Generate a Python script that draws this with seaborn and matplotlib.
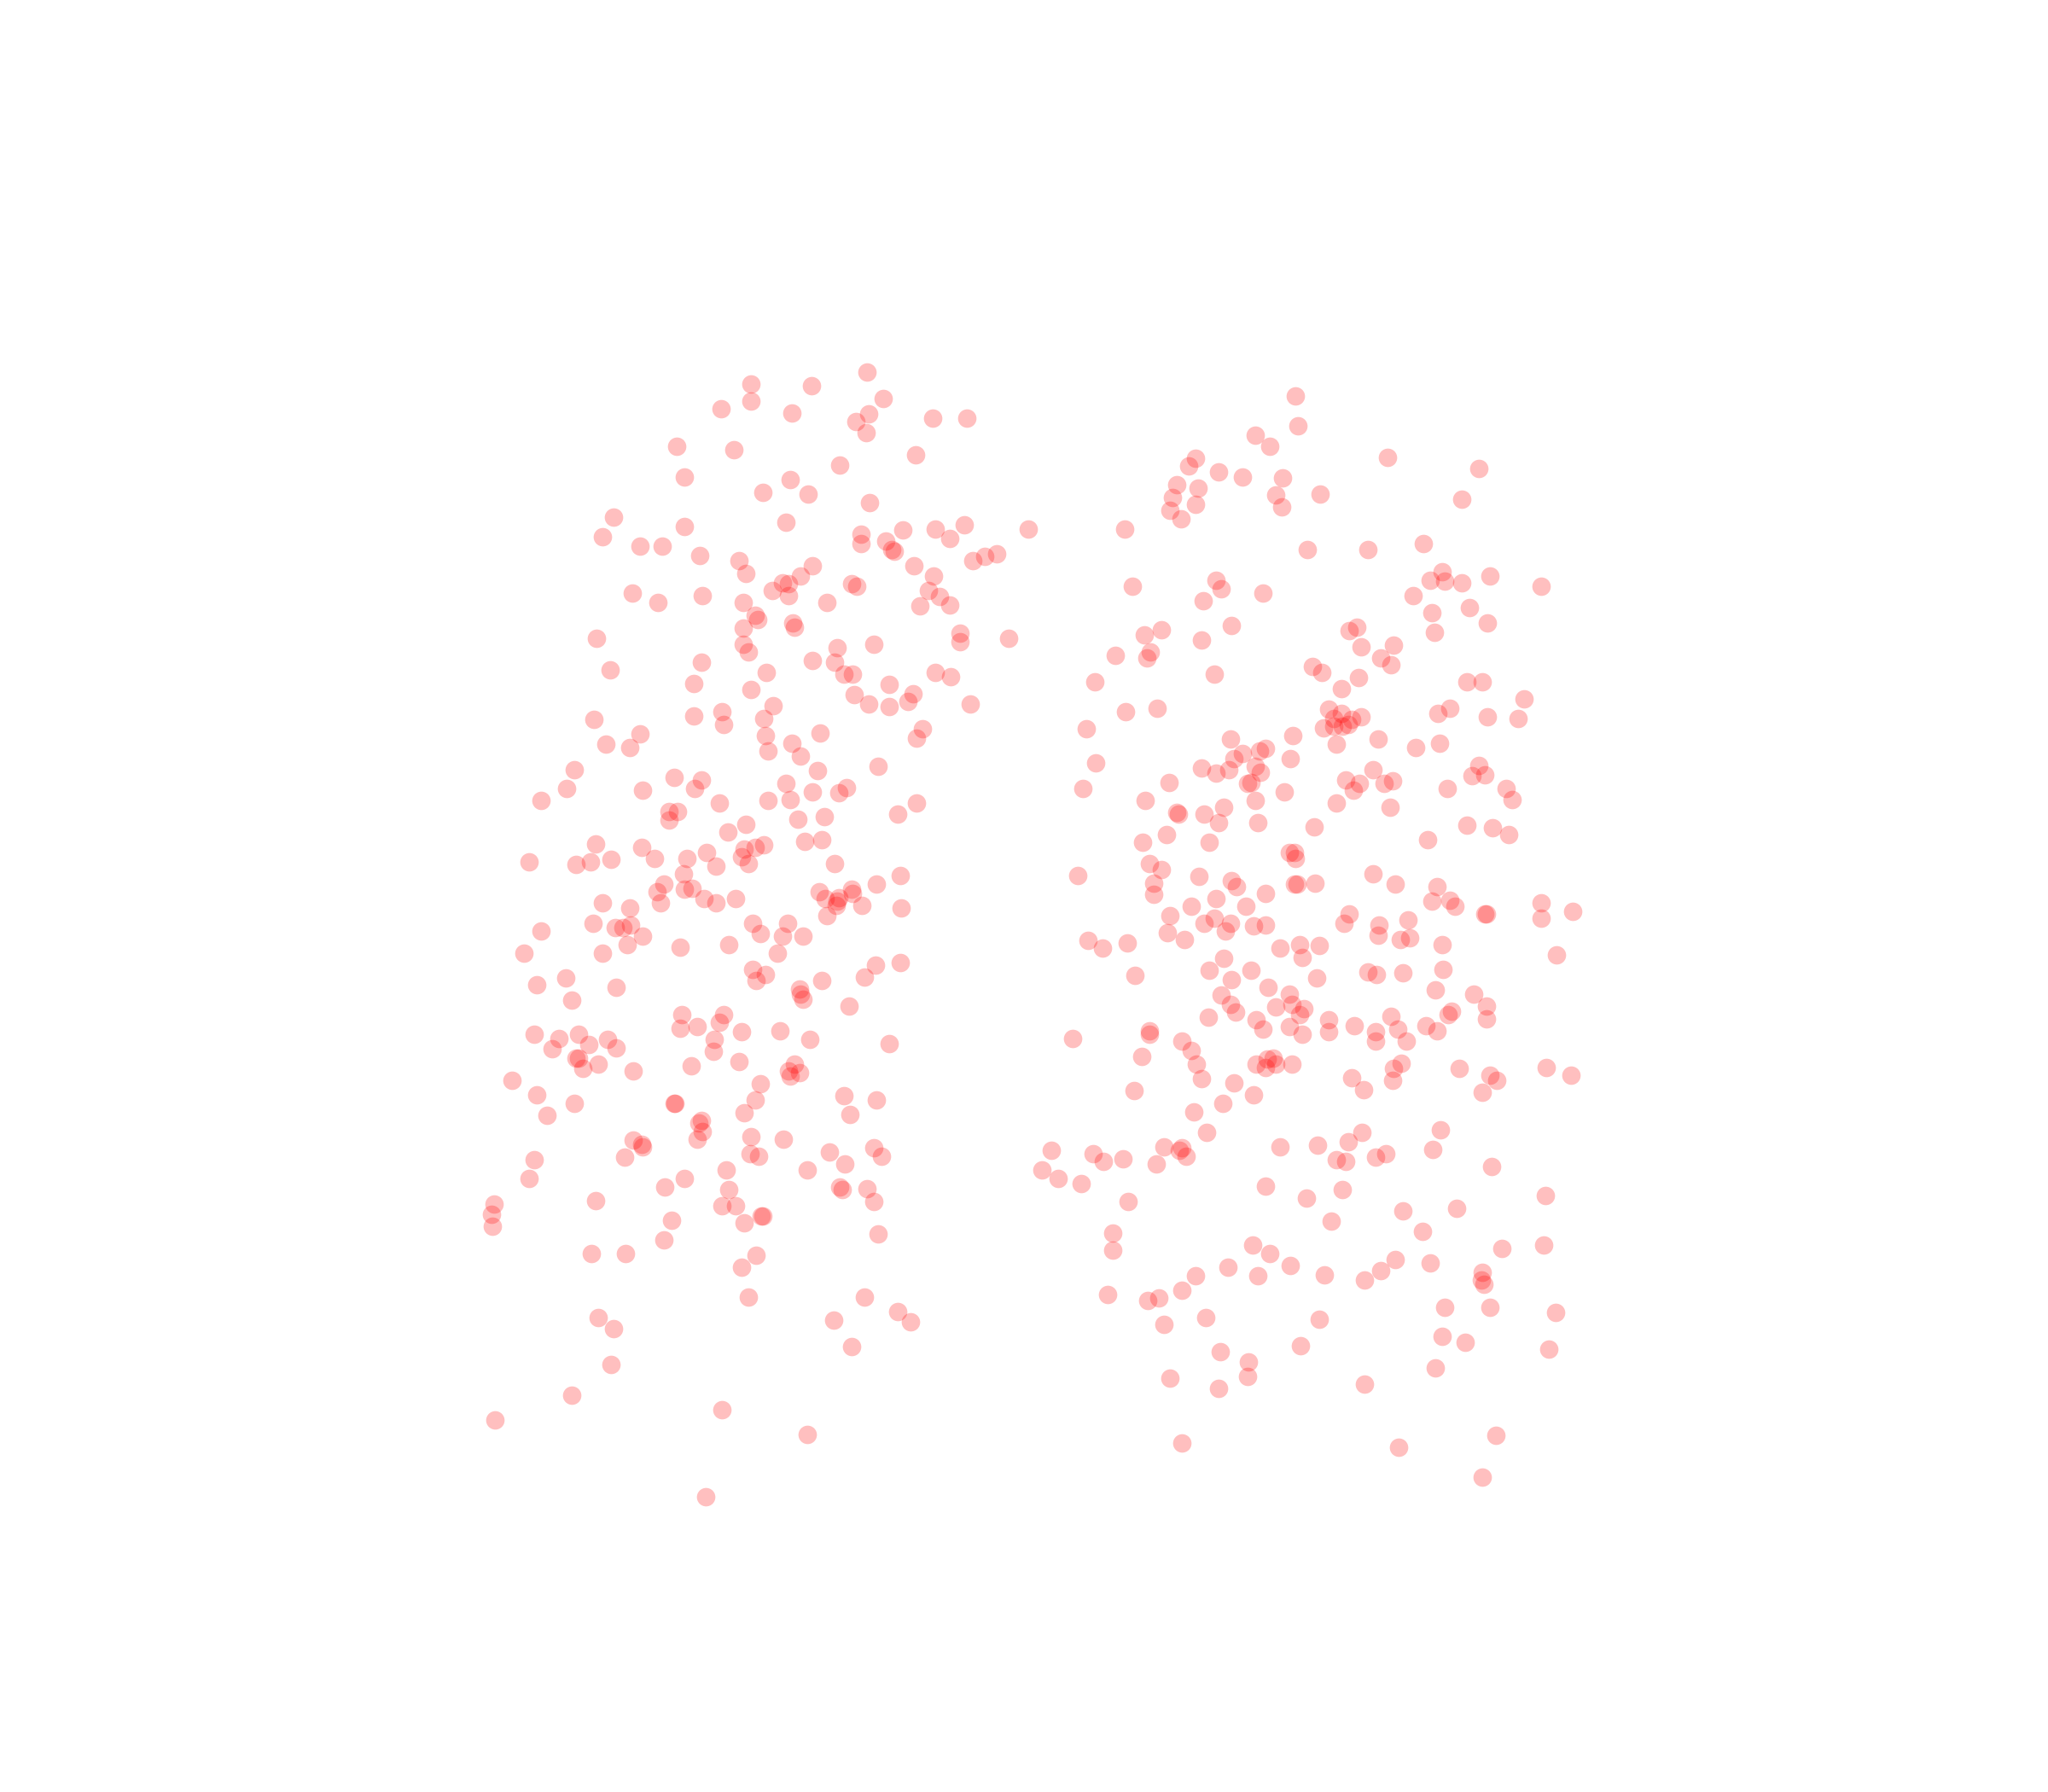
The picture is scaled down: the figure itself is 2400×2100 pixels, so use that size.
import pandas as pd
import matplotlib.pyplot as plt
import seaborn as sns

# values, one list per cluster
left_points = [
    (575,294),(621,295),(664,285),(552,313),(575,307),(606,316),(676,305),(665,317),(655,323),(663,331),(714,320),(740,320),
    (518,342),(562,344),(701,348),(643,356),(524,365),(605,367),(584,377),(619,378),(666,385),
    (470,396),(461,411),(524,403),(602,400),(490,418),(507,418),(536,425),(659,409),(659,416),(678,414),(691,406),(716,405),(727,412),(738,402),(787,405),(683,421),(685,422),(763,424),(754,426),(745,429),
    (566,429),(571,439),(622,433),(613,441),(700,433),(715,441),(599,446),(604,447),(591,452),(652,447),(656,449),(711,452),(719,457),(727,463),(704,464),
    (484,454),(504,461),(538,456),(569,461),(604,456),(633,461),(578,471),(580,474),(607,477),(608,480),(569,481),(735,485),(735,491),(772,489),(457,489),(569,493),(573,499),(641,496),(669,493),
    (537,507),(622,506),(639,507),(467,513),(587,515),(646,516),(653,516),(716,515),(728,518),(531,523),(575,528),(681,524),(699,531),(654,532),(665,539),(681,541),(695,537),(743,539),(592,540),
    (531,548),(553,545),(554,555),(585,550),(455,551),(490,562),(464,570),(482,572),(586,563),(628,561),(706,558),(702,565),(606,569),(613,579),(588,575),(672,587),(626,590),
    (440,589),(434,604),(414,613),(516,595),(537,597),(532,604),(492,605),(602,600),(622,606),(605,612),(588,613),(642,607),(648,603),(551,615),(702,615),(687,623),(512,621),(519,621),(512,628),(611,627),(631,625),(571,631),(557,637),(616,644),(629,643),
    (456,646),(491,649),(405,660),(441,662),(452,660),(468,658),(501,657),(526,657),(541,653),(548,663),(570,650),(578,649),(585,647),(568,656),(573,661),(639,661),(523,669),(689,670),(508,677),(503,683),(524,681),(530,680),(671,677),(627,683),(632,688),(642,687),(652,681),(653,684),(640,693),(660,693),(690,695),(539,688),(548,691),(563,688),(506,691),(461,691),(482,695),(454,707),(471,710),(477,710),(483,708),(414,713),(492,717),(480,723),(461,730),(401,730),(576,707),(582,715),(603,707),(599,717),(615,717),(633,701),(641,690),(521,725),(558,723),(595,730),
    (433,749),(411,754),(472,756),(438,766),(576,742),(586,746),(579,751),(629,751),(612,757),(613,761),(615,765),(662,748),(670,739),(689,737),(650,770),
    (522,777),(521,787),(534,786),(554,777),(551,783),(547,796),(546,805),(568,790),(597,789),(620,796),(681,799),(409,792),(428,795),(443,792),(451,800),(465,796),(472,802),(423,803),(441,810),(443,810),(446,818),(458,815),(485,820),(392,827),(529,816),(566,813),(604,820),(608,815),(605,824),(612,821),(582,830),(578,842),(411,838),(440,845),(419,854),(516,845),(517,845),(570,852),(646,839),(671,842),(651,853),
    (537,858),(535,860),(538,866),(534,872),(575,870),(600,872),(485,873),(491,876),(492,878),(478,886),(409,888),(574,883),(581,885),(635,882),(647,891),(669,879),(675,885),(405,902),(556,896),(618,896),(524,902),(509,909),(558,911),(643,909),(645,911),(664,910),(669,920),(456,919),(553,923),(563,923),(378,922),(376,930),(377,939),(514,934),(570,936),(583,931),(584,931),(672,945),(508,949),(453,960),(479,960),(579,961),(568,970),(573,993),(662,993),(687,1004),(697,1012),(638,1011),(652,1031),(458,1009),(470,1017),(468,1045),(438,1068),(379,1087),(553,1079),(618,1098),(540,1146),
]

right_points = [
    (992,303),(994,326),(961,333),(972,342),(915,351),(910,357),(933,361),(951,365),(982,366),(901,371),(917,374),(898,381),(915,386),(896,391),(904,397),(977,379),(981,388),(1011,378),(1062,350),(1132,359),(1119,382),(861,405),(1001,421),(1047,421),(1090,416),
    (867,449),(931,444),(935,451),(921,460),(967,454),(1104,438),(1095,444),(1106,445),(1119,446),(1141,441),(1180,449),(1082,456),(1096,469),(1125,465),(1139,477),(1098,484),
    (876,486),(889,482),(943,479),(1033,483),(1039,480),(920,490),(1042,495),(1067,494),(854,502),(881,499),(878,504),(1057,504),(1065,509),(1005,510),(1012,515),(1040,519),(930,516),(838,522),(1027,527),(1123,522),(1135,522),(1167,535),
    (862,545),(886,542),(1017,543),(1027,546),(1021,550),(1035,551),(1042,549),(1021,556),(1028,556),(1032,555),(1013,557),(1101,546),(1110,542),(1139,549),(1162,550),(832,558),(990,563),(942,566),(1023,570),(1055,566),(1084,572),(1102,569),(964,575),(969,573),(951,577),(945,581),(988,581),(839,584),(920,588),(931,592),(941,589),(961,587),(965,591),(1051,589),(1030,597),(1041,600),(1036,605),(1060,600),(1066,598),(1127,594),(1132,586),(1137,593),(958,599),(955,600),(895,599),(829,604),(983,606),(1108,604),(1153,604),(1158,612),(877,613),(961,613),(1023,615),(1064,618),(937,618),(901,622),(902,623),(922,623),(933,630),(963,630),(1006,633),(1123,632),(1143,634),(1155,639),(1093,643),(893,639),(875,645),(926,645),
    (987,653),(991,653),(992,657),(880,661),(889,666),(825,670),(918,671),(943,674),(947,679),(883,676),(883,685),(969,684),(991,677),(993,677),(1007,676),(1051,669),(1068,677),(1100,679),(1096,690),(1110,689),(1114,694),(931,688),(912,694),(954,694),(896,701),(1033,700),(1029,707),(1078,704),(1137,700),(1138,700),(1180,691),(1180,703),(1204,698),(922,707),(930,703),(942,707),(938,713),(960,709),(969,708),(894,714),(907,719),(1056,708),(1055,716),(1072,719),(1079,718),(833,720),(844,726),(863,722),(980,726),(995,723),(1010,724),(997,733),(1104,723),(1192,731),(937,734),(926,743),(943,750),(958,743),(869,747),(1047,744),(1054,746),(1074,745),(1105,742),(1008,749),(1099,758),(971,756),(935,762),(987,761),(942,769),(977,771),(989,769),(998,772),(995,777),(1128,761),(1138,770),(925,779),(946,775),(962,781),(1017,781),(1037,785),(1065,778),(1111,774),(1109,777),(1138,780),(1092,785),(880,789),(880,792),(967,788),(987,786),(997,792),(1017,790),(1053,790),(1053,797),(1070,788),(1077,797),(1100,789),(821,795),(905,797),(912,804),(874,809),(916,815),(920,826),(962,815),(970,811),(975,810),(969,817),(977,815),(989,815),(1117,818),(1184,817),(1203,823),(1073,814),(1067,818),(1066,827),(1035,825),(1044,834),(1141,823),(1146,827),(1135,836),(945,829),(868,835),(960,838),(936,845),(914,851),(1103,865),(1043,867),(924,867),
    (1032,874),(1009,877),(980,878),(891,878),(905,879),(903,881),(908,885),(805,881),(837,883),(845,889),(860,887),(885,891),(1023,888),(1030,889),(1053,886),(1061,883),(1097,880),(1142,893),(798,896),(810,902),(828,906),(969,908),(1028,911),(1000,917),(864,920),(1183,915),(1074,927),(1115,925),(1019,935),(1089,943),(852,944),(852,957),(959,953),(972,960),(1150,956),(1182,953),(1068,964),(1095,967),(988,969),(940,970),(963,977),(915,977),(1014,976),(1045,980),(1057,973),(1135,974),(1134,980),(1136,983),(905,988),(848,991),(879,996),(887,994),(1106,1001),(1141,1001),(1191,1005),(923,1009),(1010,1010),(891,1014),(1104,1023),(1122,1028),(996,1030),(934,1035),(1186,1033),(956,1043),(1099,1047),(955,1054),(896,1055),(933,1063),(1045,1060),(905,1105),(1071,1108),(1145,1099),(1135,1131),
]

df = pd.DataFrame(left_points + right_points, columns=['x', 'y'])

sns.set_theme(style='white')
fig, ax = plt.subplots(figsize=(8, 7))
ax.set_position([0, 0, 1, 1])

sns.scatterplot(data=df, x='x', y='y', color='red', alpha=0.25, s=27, linewidth=0, ax=ax)

ax.set_xlim(0, 1568)
ax.set_ylim(1372, 0)
ax.axis('off')

fig.savefig('out.png', dpi=300)
